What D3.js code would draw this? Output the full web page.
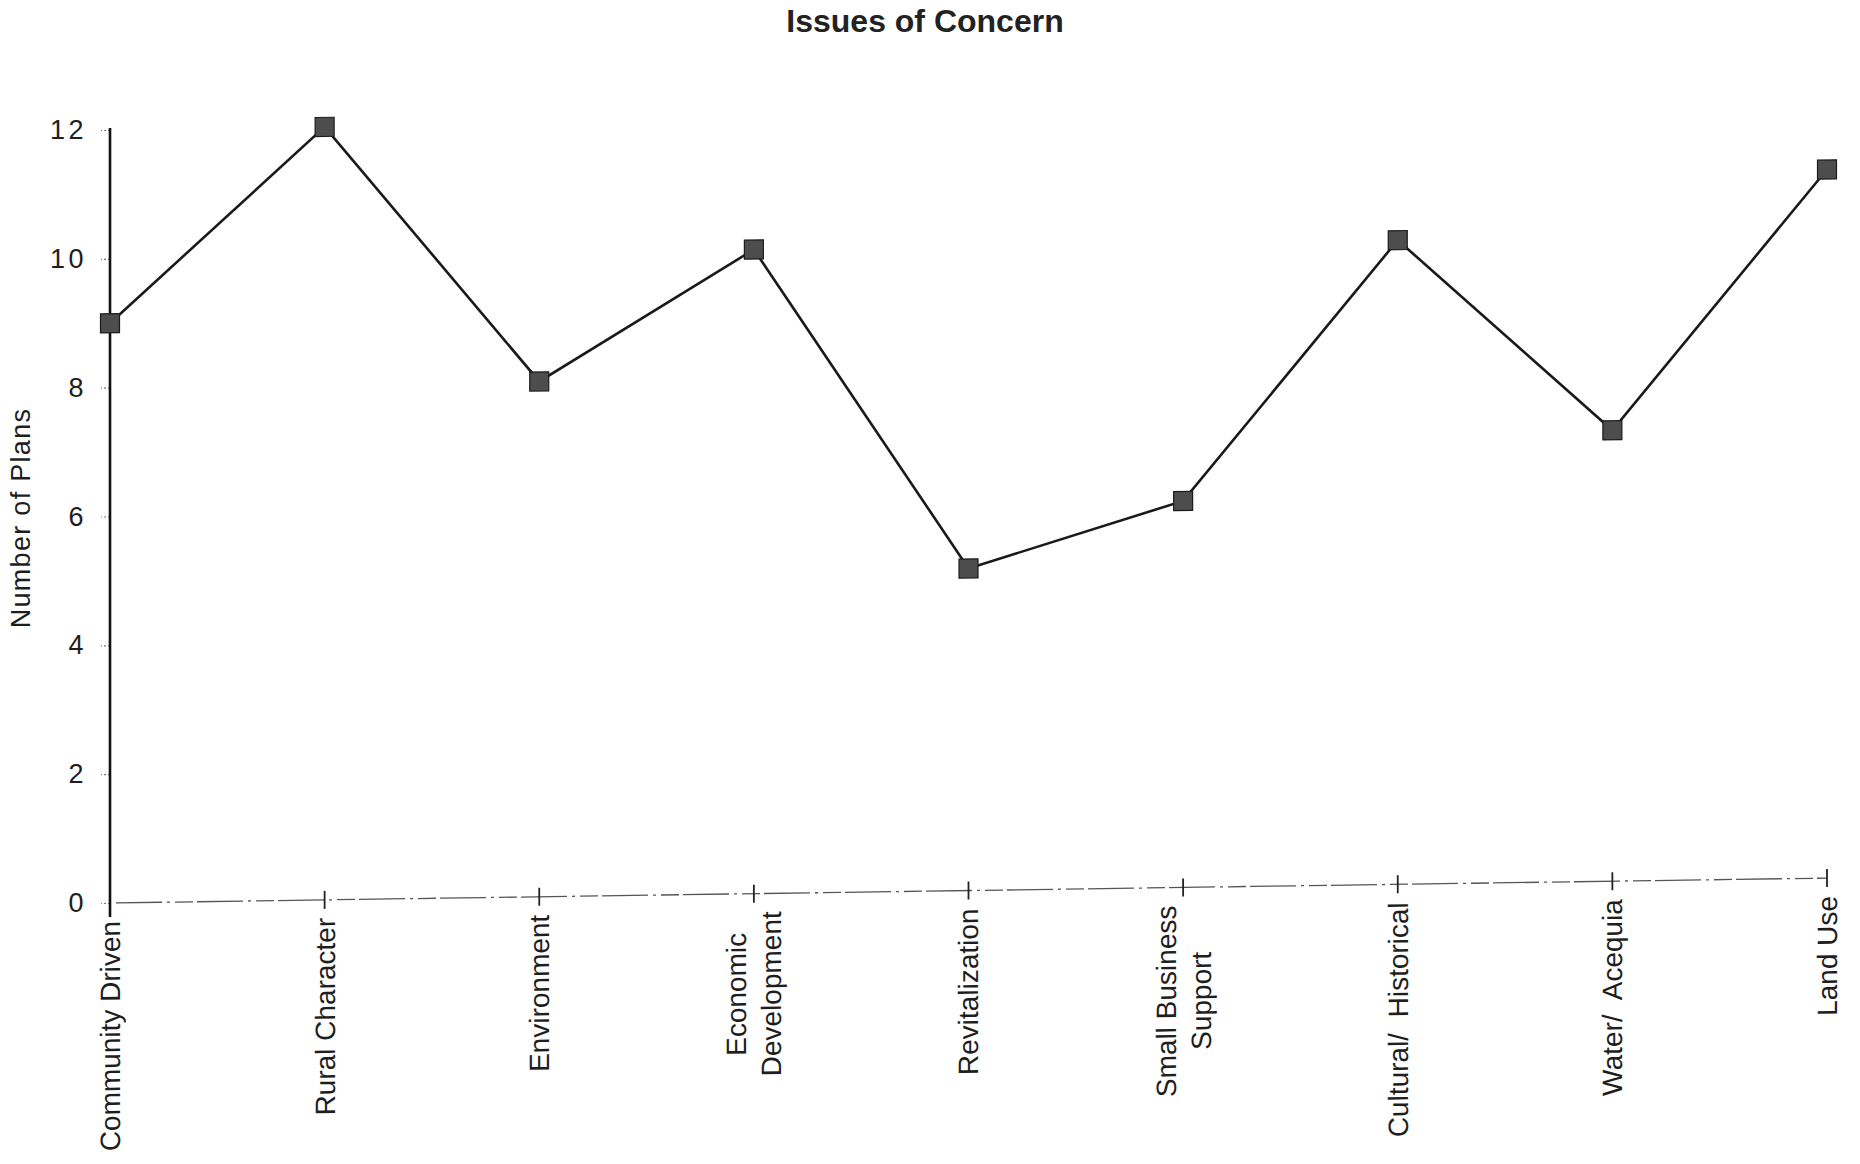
<!DOCTYPE html>
<html>
<head>
<meta charset="utf-8">
<script src="https://cdn.jsdelivr.net/npm/d3@7"></script>
<style>
  html, body { margin: 0; padding: 0; background: #fff; }
  svg { display: block; font-family: "Liberation Sans", Arial, Helvetica, sans-serif; }
</style>
</head>
<body>
<svg id="chart" width="1860" height="1164"></svg>
<script>
// Issues raised in the plans, and how many plans mention each one
const categories = [
  "Community Driven",
  "Rural Character",
  "Environment",
  "Economic\nDevelopment",
  "Revitalization",
  "Small Business\nSupport",
  "Cultural/  Historical",
  "Water/  Acequia",
  "Land Use"
];
const planCounts = [9, 12, 8, 10, 5, 6, 10, 7, 11];
const yTickValues = [0, 2, 4, 6, 8, 10, 12];

const titleText = "Issues of Concern";
const yAxisTitle = "Number of Plans";

const W = 1860, H = 1164;
const originX = 110;           // where the value axis sits
const plotTop = 130, plotBottom = 903;
const plotWidth = 1717;
const baselineSlope = -0.01451; // the category baseline climbs slightly to the right

const svg = d3.select("#chart");

const x = d3.scalePoint().domain(categories).range([0, plotWidth]);
const y = d3.scaleLinear().domain([0, 12]).range([plotBottom, plotTop]);

// title
svg.append("text")
  .attr("x", 925).attr("y", 32)
  .attr("text-anchor", "middle")
  .attr("font-size", 32).attr("font-weight", "bold")
  .attr("fill", "#222")
  .text(titleText);

// value axis title
svg.append("text")
  .attr("transform", `translate(30,518) rotate(-90)`)
  .attr("text-anchor", "middle")
  .attr("font-size", 27).attr("letter-spacing", 1.3)
  .attr("fill", "#1e1e1e")
  .text(yAxisTitle);

// value axis
const yAxis = svg.append("g")
  .attr("transform", `translate(${originX},0)`)
  .call(d3.axisLeft(y).tickValues(yTickValues).tickSize(9).tickPadding(14));
yAxis.select(".domain").remove();
yAxis.selectAll(".tick line")
  .attr("stroke", "#777").attr("stroke-width", 1.2).attr("stroke-dasharray", "2,2");
yAxis.selectAll(".tick text")
  .attr("font-size", 27).attr("letter-spacing", 3.5)
  .attr("fill", "#1e1e1e")
  .attr("font-family", "\"Liberation Sans\", Arial, sans-serif");
yAxis.append("line")
  .attr("x1", 0).attr("x2", 0)
  .attr("y1", y(12) - 2).attr("y2", y(0) + 14)
  .attr("stroke", "#111").attr("stroke-width", 2.6);

// plot area sheared along the baseline
const plot = svg.append("g")
  .attr("transform", `translate(${originX},0) skewY(${Math.atan(baselineSlope) * 180 / Math.PI})`);

// category baseline
plot.append("line")
  .attr("x1", 6).attr("x2", plotWidth)
  .attr("y1", y(0)).attr("y2", y(0))
  .attr("stroke", "#555").attr("stroke-width", 1.3)
  .attr("stroke-dasharray", "46,5,3,5,18,4");

plot.append("g").selectAll("line")
  .data(categories.slice(1))
  .join("line")
  .attr("x1", d => x(d)).attr("x2", d => x(d))
  .attr("y1", y(0) - 9).attr("y2", y(0) + 9)
  .attr("stroke", "#222").attr("stroke-width", 1.8);

// category labels, rotated, lines centred on a common middle
const labelGap = 18;
const lineStep = 35;
const labels = plot.append("g").selectAll("g")
  .data(categories)
  .join("g");
labels.each(function (d) {
  const lines = d.split("\n");
  const g = d3.select(this);
  const t = g.append("text")
    .attr("font-size", 28)
    .attr("fill", "#1e1e1e")
    .attr("text-anchor", "middle")
    .attr("dominant-baseline", "central")
    .style("white-space", "pre");
  lines.forEach((ln, k) => {
    t.append("tspan")
      .attr("x", 0)
      .attr("y", (k - (lines.length - 1) / 2) * lineStep)
      .text(ln);
  });
  let maxLen = 0;
  t.selectAll("tspan").each(function () {
    maxLen = Math.max(maxLen, this.getComputedTextLength());
  });
  g.attr("transform", `translate(${x(d)},${y(0) + labelGap + maxLen / 2}) rotate(-90)`);
});

// series line
const line = d3.line()
  .x((d, i) => x(categories[i]))
  .y(d => y(d));
plot.append("path")
  .datum(planCounts)
  .attr("d", line)
  .attr("fill", "none")
  .attr("stroke", "#1a1a1a")
  .attr("stroke-width", 2.6)
  .attr("stroke-linejoin", "miter");

// square markers
const m = 19;
plot.append("g").selectAll("rect")
  .data(planCounts)
  .join("rect")
  .attr("x", (d, i) => x(categories[i]) - m / 2)
  .attr("y", d => y(d) - m / 2)
  .attr("width", m).attr("height", m)
  .attr("fill", "#4d4d4d")
  .attr("stroke", "#1c1c1c").attr("stroke-width", 1.2);
</script>
</body>
</html>
